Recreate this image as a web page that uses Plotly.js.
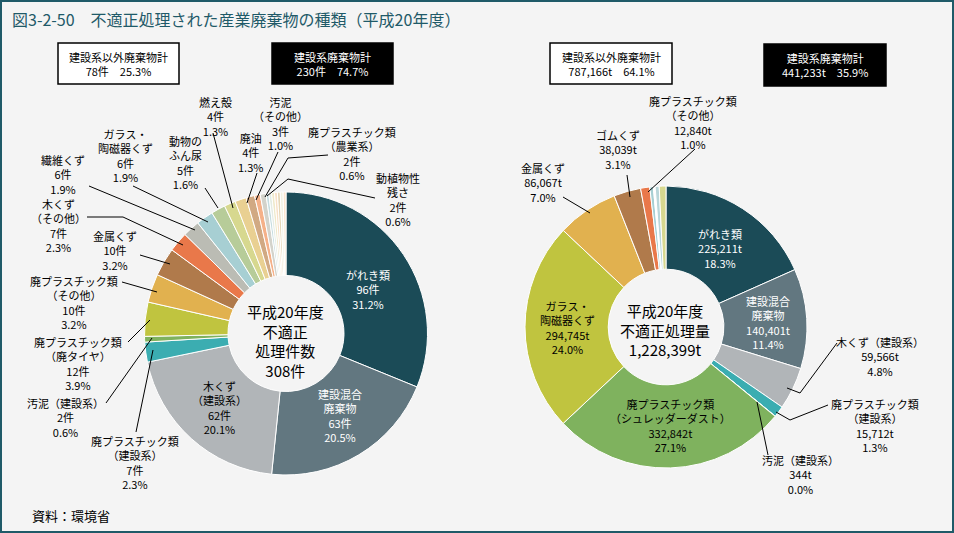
<!DOCTYPE html>
<html>
<head>
<meta charset="utf-8">
<script src="https://cdn.plot.ly/plotly-3.0.1.min.js"></script>
<style>html,body{margin:0;padding:0;background:#f4f4f4;}#chart{width:954px;height:533px;}</style>
</head>
<body>
<div id="chart"></div>
<script>
// ---------- DATA ----------
// Left pie: number of cases (件)
const leftLabels = ["がれき類","建設混合\n廃棄物","木くず\n（建設系）","廃プラスチック類\n（建設系）","汚泥（建設系）","廃プラスチック類\n（廃タイヤ）","廃プラスチック類\n（その他）","金属くず","木くず\n（その他）","繊維くず","ガラス・\n陶磁器くず","動物の\nふん尿","燃え殻","廃油","汚泥\n（その他）","廃プラスチック類\n（農業系）","動植物性\n残さ","その他a","その他b","その他c","その他d","その他e","その他f","その他g"];
const leftValues = [96,63,62,7,2,12,10,10,7,6,6,5,4,4,3,2,2,1,1,1,1,1,1,1];
const leftSubtotals = [78,230]; // 建設系以外, 建設系

// Right pie: tonnage (t)
const rightLabels = ["がれき類","建設混合\n廃棄物","木くず（建設系）","廃プラスチック類\n（建設系）","汚泥（建設系）","廃プラスチック類\n（シュレッダーダスト）","ガラス・\n陶磁器くず","金属くず","ゴムくず","廃プラスチック類\n（その他）","その他a","その他b","その他c","その他d"];
const rightValues = [225211,140401,59566,15712,344,332842,294745,86067,38039,12840,5000,2500,5700,9432];
const rightSubtotals = [787166,441233];

// ---------- STYLE ----------
const leftColors = ['#1b4b57','#627780','#b1b5b8','#3badb1','#7fb25e','#c0c43f','#e1b14f','#b07a4b','#e9784a','#bbbcb4','#a7cfd3','#b7cc99','#d7d88f','#e9d092','#d1a983','#f5b189','#d3d3cb','#c6dde0','#e4ece4','#efe9c9','#f8e1c8','#e6d7b7','#f2f2e2','#fbe6cf'];
const rightColors = ['#1b4b57','#627780','#b1b5b8','#3badb1','#8fbf6f','#7fb25e','#c0c43f','#e1b14f','#b07a4b','#e9784a','#a7cfd3','#ffffff','#b9d6da','#d7d88f'];

const W = 954, H = 533;
const px = x => x / W;
const py = y => 1 - y / H;
const FONT = '"Noto Sans CJK JP", "Noto Sans", sans-serif';

// label placement (pixel centers), text colour, leader line polylines
const leftPlace = {
  0:{x:368,y:289,c:'#fff'}, 1:{x:340,y:415,c:'#fff'}, 2:{x:219,y:407},
  3:{x:135,y:462,l:[[136,432],[153,350]]},
  4:{x:65,y:417,l:[[106,403],[152,338]]},
  5:{x:78,y:363,l:[[128,342],[150,320]]},
  6:{x:74,y:302,l:[[122,282],[157,292]]},
  7:{x:115,y:251,l:[[140,255],[170,264]]},
  8:{x:58,y:225,l:[[87,217],[123,217],[183,245]]},
  9:{x:63,y:174,l:[[89,186],[195,230]]},
  10:{x:125,y:155,l:[[133,186],[208,222]]},
  11:{x:185,y:163,l:[[205,188],[218,208]]},
  12:{x:215,y:116,l:[[213,133],[233,208]]},
  13:{x:250,y:152,l:[[257,173],[247,203]]},
  14:{x:280,y:123,l:[[278,152],[256,200]]},
  15:{x:352,y:153,l:[[328,155],[288,158],[265,197]]},
  16:{x:398,y:200,l:[[375,198],[288,179],[267,196]]}
};
const rightPlace = {
  0:{x:720,y:248,c:'#fff'}, 1:{x:768,y:322,c:'#fff'},
  2:{x:880,y:356,l:[[837,343],[800,393],[787,388]]},
  3:{x:875,y:425,l:[[828,405],[790,420],[776,412]]},
  4:{x:800,y:474,l:[[768,455],[757,402]]},
  5:{x:670,y:425}, 6:{x:567,y:327},
  7:{x:543,y:182,l:[[563,197],[590,213]]},
  8:{x:618,y:150,l:[[627,175],[630,197]]},
  9:{x:693,y:122,l:[[695,149],[648,192]]}
};

const sum = a => a.reduce((s,v)=>s+v,0);
const fmt = n => n.toLocaleString('en-US');
const leftTotal = sum(leftValues);
const rightTotal = sum(rightValues);

const annotations = [];
const shapes = [];

function addLabels(labels, values, total, unit, place){
  Object.keys(place).forEach(k=>{
    const i = +k, p = place[k];
    const pct = (values[i]/total*100).toFixed(1) + '%';
    const txt = labels[i].split('\n').join('<br>') + '<br>' + fmt(values[i]) + unit + '<br>' + pct;
    annotations.push({x:px(p.x), y:py(p.y), xref:'paper', yref:'paper', text:txt, showarrow:false,
      xanchor:'center', yanchor:'middle', align:'center', font:{family:FONT,size:11,color:p.c||'#000'}});
    if (p.l){
      const d = p.l.map((pt,j)=>(j?'L':'M')+px(pt[0])+','+py(pt[1])).join(' ');
      shapes.push({type:'path', xref:'paper', yref:'paper', path:d, line:{color:'#000',width:1}});
    }
  });
}
addLabels(leftLabels, leftValues, leftTotal, '件', leftPlace);
addLabels(rightLabels, rightValues, rightTotal, 't', rightPlace);

// summary boxes
function box(x0,y0,x1,y1,fill,txtColor,text){
  shapes.push({type:'rect', xref:'paper', yref:'paper', x0:px(x0), x1:px(x1), y0:py(y1), y1:py(y0),
    fillcolor:fill, line:{color:'#000',width:1.5}});
  annotations.push({x:px((x0+x1)/2), y:py((y0+y1)/2), xref:'paper', yref:'paper', text:text, showarrow:false,
    xanchor:'center', yanchor:'middle', font:{family:FONT,size:11,color:txtColor}});
}
const lsTot = sum(leftSubtotals), rsTot = sum(rightSubtotals);
box(58,43,179,84,'#fff','#000','建設系以外廃棄物計<br>'+leftSubtotals[0]+'件　'+(leftSubtotals[0]/lsTot*100).toFixed(1)+'%');
box(272,43,393,84,'#000','#fff','建設系廃棄物計<br>'+leftSubtotals[1]+'件　'+(leftSubtotals[1]/lsTot*100).toFixed(1)+'%');
box(550,43,672,84,'#fff','#000','建設系以外廃棄物計<br>'+fmt(rightSubtotals[0])+'t　'+(rightSubtotals[0]/rsTot*100).toFixed(1)+'%');
box(764,44,886,86,'#000','#fff','建設系廃棄物計<br>'+fmt(rightSubtotals[1])+'t　'+(rightSubtotals[1]/rsTot*100).toFixed(1)+'%');

// centre texts
annotations.push({x:px(285), y:py(341), xref:'paper', yref:'paper', showarrow:false, xanchor:'center', yanchor:'middle',
  text:'平成20年度<br>不適正<br>処理件数<br>'+leftTotal+'件', font:{family:FONT,size:15,color:'#000'}});
annotations.push({x:px(665), y:py(330), xref:'paper', yref:'paper', showarrow:false, xanchor:'center', yanchor:'middle',
  text:'平成20年度<br>不適正処理量<br>'+fmt(rightTotal)+'t', font:{family:FONT,size:15,color:'#000'}});

// source
annotations.push({x:px(30), y:py(515), xref:'paper', yref:'paper', showarrow:false, xanchor:'left', yanchor:'middle',
  text:'資料：環境省', font:{family:FONT,size:13,color:'#000'}});

// frame
shapes.push({type:'rect', xref:'paper', yref:'paper', x0:px(1), x1:px(953), y0:py(532), y1:py(1), line:{color:'#1f5a68',width:2}, fillcolor:'rgba(0,0,0,0)'});

const traces = [
  {type:'pie', labels:leftLabels, values:leftValues, sort:false, direction:'clockwise', rotation:0, hole:0.41,
   textinfo:'none', hoverinfo:'none', showlegend:false,
   marker:{colors:leftColors, line:{color:'#ffffff', width:1}},
   domain:{x:[px(144.5), px(427.5)], y:[py(475.5), py(191.5)]}},
  {type:'pie', labels:rightLabels, values:rightValues, sort:false, direction:'clockwise', rotation:0, hole:0.41,
   textinfo:'none', hoverinfo:'none', showlegend:false,
   marker:{colors:rightColors, line:{color:'#ffffff', width:1}},
   domain:{x:[px(525), px(807)], y:[py(468), py(186)]}}
];

const layout = {
  width:W, height:H, margin:{l:0,r:0,t:0,b:0},
  paper_bgcolor:'#f4f4f4', plot_bgcolor:'#f4f4f4',
  title:{text:'図3-2-50　不適正処理された産業廃棄物の種類（平成20年度）', xref:'paper', yref:'paper',
    x:px(12), xanchor:'left', y:py(20), yanchor:'middle', font:{family:FONT,size:16,color:'#1f5a68'}},
  annotations:annotations, shapes:shapes, showlegend:false
};
Plotly.newPlot('chart', traces, layout, {displayModeBar:false, staticPlot:true});
</script>
</body>
</html>
